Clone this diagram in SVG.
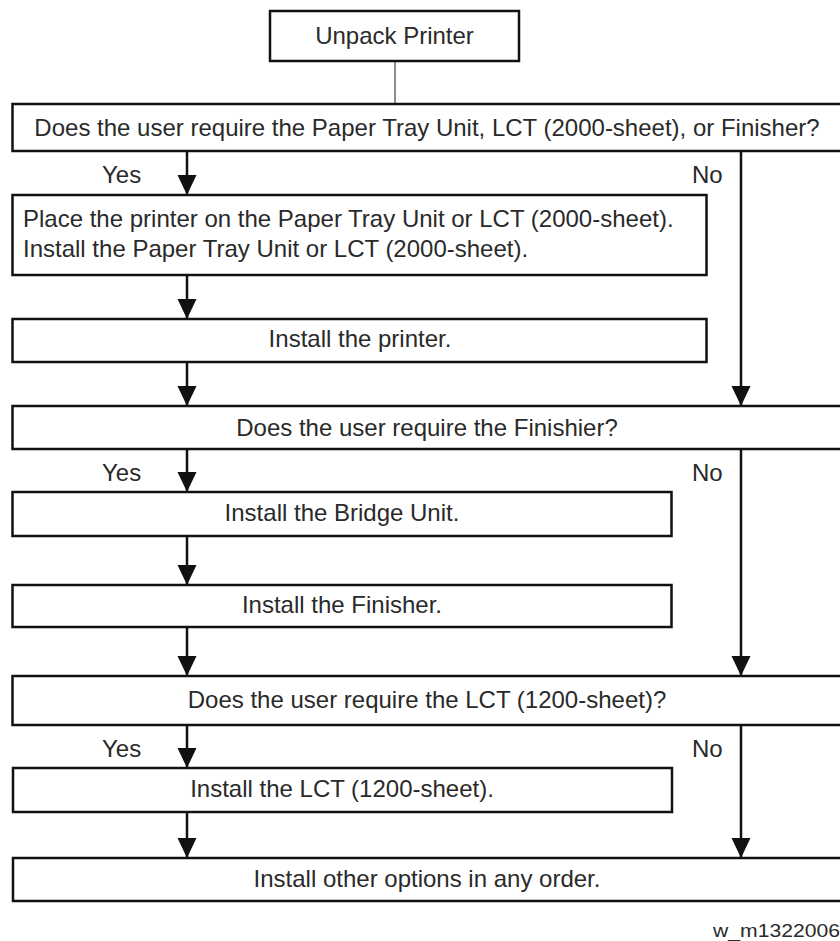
<svg xmlns="http://www.w3.org/2000/svg" width="840" height="941" viewBox="0 0 840 941">
<defs>
<style>
.box{fill:#fff;stroke:#111;stroke-width:2.5}
.t{font-family:"Liberation Sans",Arial,sans-serif;font-size:24px;fill:#2a2a2a}
.c{text-anchor:middle}
.conn{stroke:#111;stroke-width:2.5;fill:none}
.thin{stroke:#444;stroke-width:1.2;fill:none}
</style>
<marker id="ah" markerUnits="userSpaceOnUse" markerWidth="20" markerHeight="20" viewBox="0 0 20 20" refX="20" refY="10" orient="auto">
<path d="M0,0.5 L20,10 L0,19.5 z" fill="#111"/>
</marker>
</defs>
<rect width="840" height="941" fill="#fff"/>
<g id="connectors">
<line class="thin" x1="395" y1="61" x2="395" y2="104"/>
<line class="conn" x1="187" y1="151" x2="187" y2="195" marker-end="url(#ah)"/>
<line class="conn" x1="187" y1="275" x2="187" y2="319" marker-end="url(#ah)"/>
<line class="conn" x1="187" y1="362" x2="187" y2="406" marker-end="url(#ah)"/>
<line class="conn" x1="187" y1="449" x2="187" y2="492" marker-end="url(#ah)"/>
<line class="conn" x1="187" y1="536" x2="187" y2="585" marker-end="url(#ah)"/>
<line class="conn" x1="187" y1="627" x2="187" y2="676" marker-end="url(#ah)"/>
<line class="conn" x1="187" y1="725" x2="187" y2="768" marker-end="url(#ah)"/>
<line class="conn" x1="187" y1="812" x2="187" y2="858" marker-end="url(#ah)"/>
<line class="conn" x1="741" y1="151" x2="741" y2="406" marker-end="url(#ah)"/>
<line class="conn" x1="741" y1="449" x2="741" y2="676" marker-end="url(#ah)"/>
<line class="conn" x1="741" y1="725" x2="741" y2="858" marker-end="url(#ah)"/>
<text class="t" x="102" y="183">Yes</text>
<text class="t" x="692" y="183">No</text>
<text class="t" x="102" y="481">Yes</text>
<text class="t" x="692" y="481">No</text>
<text class="t" x="102" y="757">Yes</text>
<text class="t" x="692" y="757">No</text>
</g>
<g id="n0">
<rect class="box" x="270" y="11" width="249" height="50"/>
<text class="t c" x="394.5" y="44">Unpack Printer</text>
</g>
<g id="n1">
<rect class="box" x="12.5" y="104" width="835" height="47"/>
<text class="t c" x="427" y="135.5">Does the user require the Paper Tray Unit, LCT (2000-sheet), or Finisher?</text>
</g>
<g id="n2">
<rect class="box" x="12.5" y="195" width="694" height="80"/>
<text class="t" x="23" y="227">Place the printer on the Paper Tray Unit or LCT (2000-sheet).</text>
<text class="t" x="23" y="257">Install the Paper Tray Unit or LCT (2000-sheet).</text>
</g>
<g id="n3">
<rect class="box" x="12.5" y="319" width="694" height="43"/>
<text class="t c" x="360" y="347">Install the printer.</text>
</g>
<g id="n4">
<rect class="box" x="12.5" y="406" width="835" height="43"/>
<text class="t c" x="427" y="436">Does the user require the Finishier?</text>
</g>
<g id="n5">
<rect class="box" x="12.5" y="492" width="659" height="44"/>
<text class="t c" x="342" y="521">Install the Bridge Unit.</text>
</g>
<g id="n6">
<rect class="box" x="12.5" y="585" width="659" height="42"/>
<text class="t c" x="342" y="613">Install the Finisher.</text>
</g>
<g id="n7">
<rect class="box" x="12.5" y="676" width="835" height="49"/>
<text class="t c" x="427" y="708">Does the user require the LCT (1200-sheet)?</text>
</g>
<g id="n8">
<rect class="box" x="13" y="768" width="659" height="44"/>
<text class="t c" x="342" y="797">Install the LCT (1200-sheet).</text>
</g>
<g id="n9">
<rect class="box" x="13" y="858" width="835" height="43"/>
<text class="t c" x="427" y="887">Install other options in any order.</text>
</g>
<text class="t" x="713" y="937" style="font-size:18px" textLength="127" lengthAdjust="spacingAndGlyphs">w_m1322006</text>
</svg>
